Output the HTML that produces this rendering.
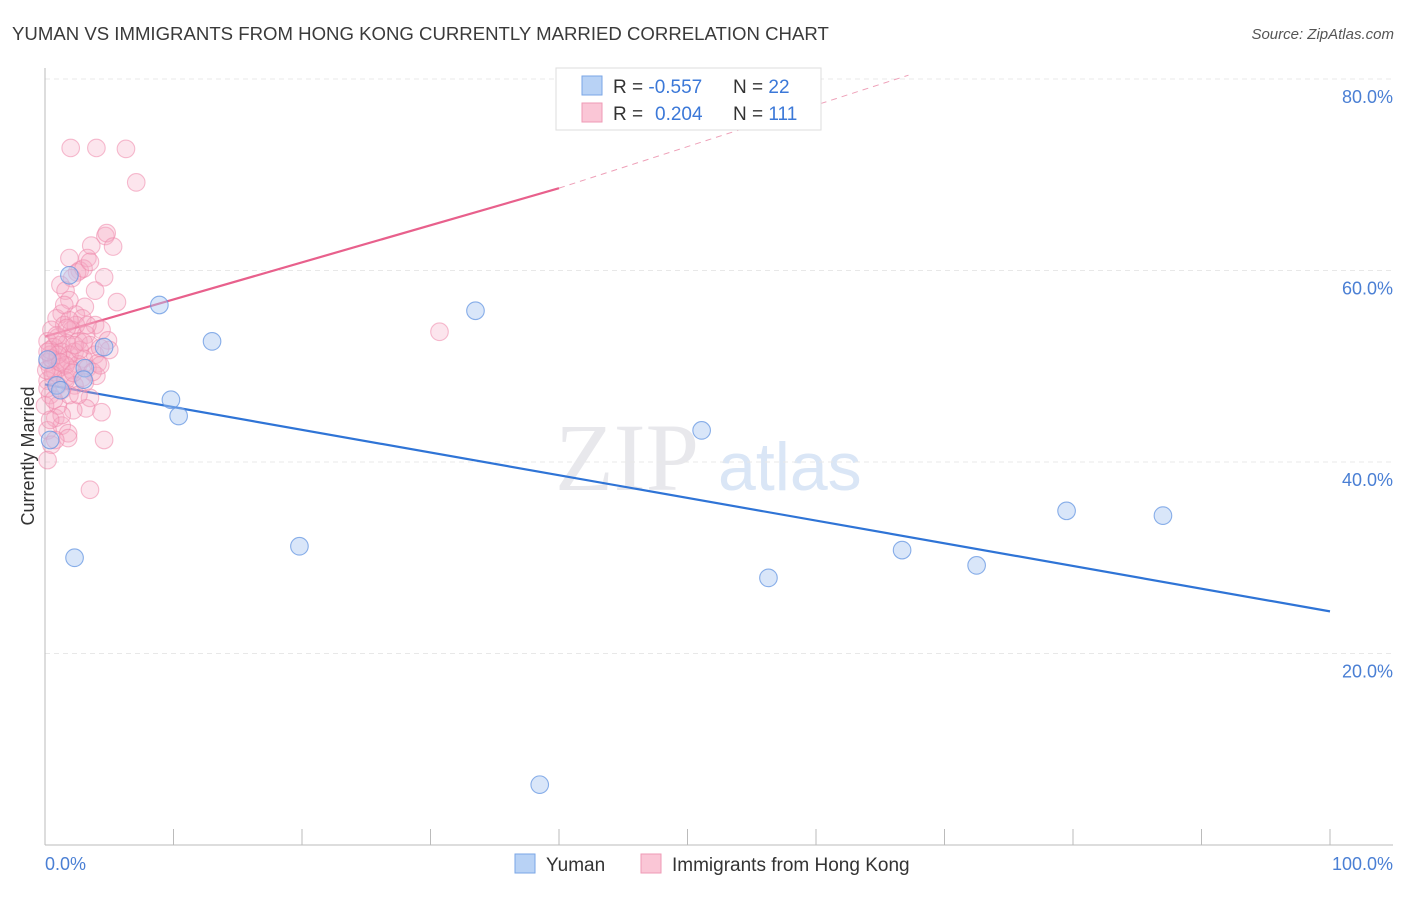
<!DOCTYPE html>
<html><head><meta charset="utf-8"><style>
body{margin:0;background:#fff;font-family:"Liberation Sans",sans-serif;}
</style></head><body>
<svg width="1406" height="892" xmlns="http://www.w3.org/2000/svg" font-family="Liberation Sans, sans-serif">
<text x="12" y="40" font-size="18.6" fill="#3a3a3a">YUMAN VS IMMIGRANTS FROM HONG KONG CURRENTLY MARRIED CORRELATION CHART</text>
<text x="1394" y="39" font-size="15" fill="#555" font-style="italic" text-anchor="end">Source: ZipAtlas.com</text>
<text x="555" y="490" font-size="96" fill="#e8e8ec" font-family="Liberation Serif, serif">ZIP</text>
<text x="718" y="490" font-size="68" fill="#dae6f6">atlas</text>
<g id="grid"></g><g id="axes"></g><g id="lines"></g><g id="pts"></g>
<text x="34" y="456" font-size="18" fill="#333" text-anchor="middle" transform="rotate(-90 34 456)">Currently Married</text>
<text x="45" y="870" font-size="18" fill="#4a7fd4">0.0%</text>
<text x="1393" y="870" font-size="18" fill="#4a7fd4" text-anchor="end">100.0%</text>
<g>
<rect x="556" y="68" width="265" height="62" fill="#fff" stroke="#ddd"/>
<rect x="582" y="76" width="20" height="19" fill="#b8d2f5" stroke="#7aa6e6"/>
<rect x="582" y="103" width="20" height="19" fill="#fac6d6" stroke="#ef9ab5"/>
<text x="613" y="93" font-size="19" fill="#333">R = <tspan fill="#3b78d8">-0.557</tspan></text>
<text x="733" y="93" font-size="19" fill="#333">N = <tspan fill="#3b78d8">22</tspan></text>
<text x="613" y="120" font-size="19" fill="#333">R = <tspan fill="#3b78d8" x="655">0.204</tspan></text>
<text x="733" y="120" font-size="19" fill="#333">N = <tspan fill="#3b78d8">111</tspan></text>
</g>
<g>
<rect x="515" y="854" width="20" height="19" fill="#b8d2f5" stroke="#7aa6e6"/>
<text x="546" y="871" font-size="19" fill="#333">Yuman</text>
<rect x="641" y="854" width="20" height="19" fill="#fac6d6" stroke="#ef9ab5"/>
<text x="672" y="871" font-size="19" fill="#333">Immigrants from Hong Kong</text>
</g>
</svg>
<script>
const yTicks=[20,40,60,80];
const xTicks=[0,10,20,30,40,50,60,70,80,90,100];
const blueX=[2.3,8.9,13.0,9.8,10.4,19.8,33.5,38.5,51.1,56.3,66.7,72.5,79.5,87.0,1.9,4.6,3.1,0.9,1.2,0.4,0.2,3.0];
const blueY=[30.0,56.4,52.6,46.5,44.8,31.2,55.8,6.3,43.3,27.9,30.8,29.2,34.9,34.4,59.5,52.0,49.8,48.0,47.5,42.3,50.7,48.6];
const pinkX=[2.0,4.0,6.3,7.1,4.7,4.8,5.3,3.6,3.3,1.9,2.7,2.5,4.6,2.1,1.2,1.6,5.6,1.9,3.1,1.3,2.4,0.9,2.9,3.9,1.5,0.5,4.4,2.1,3.2,1.0,4.9,0.2,2.6,1.7,3.5,0.7,5.0,1.3,2.3,0.4,3.9,3.0,0.9,1.8,0.2,4.1,2.6,1.2,0.4,3.3,2.1,0.8,4.0,2.9,1.6,0.2,1.0,2.3,3.5,1.3,0.4,3.2,2.2,4.4,0.8,1.3,0.2,1.8,4.6,1.8,0.5,3.5,30.7,0.2,0.8,1.9,1.2,0.4,2.7,1.6,0.6,3.7,0.2,1.0,1.9,3.1,4.3,2.4,1.5,3.9,3.0,3.5,2.3,1.0,0.1,0.5,1.6,2.6,1.3,0.0,0.4,0.9,1.9,3.3,1.2,4.3,0.2,3.0,1.7,0.7,2.2];
const pinkY=[72.8,72.8,72.7,69.2,63.6,63.9,62.5,62.6,61.3,61.3,60.0,59.8,59.3,59.2,58.5,57.9,56.7,56.9,56.2,55.5,55.4,55.0,55.0,54.3,54.3,53.8,53.8,53.8,53.3,53.0,52.7,52.6,52.6,52.4,52.2,52.0,51.7,51.5,51.5,51.2,51.2,50.8,50.6,50.6,50.4,50.3,50.2,49.9,49.8,49.8,49.6,49.4,49.0,48.8,48.8,48.5,48.0,48.0,46.7,47.5,47.0,45.6,45.4,45.2,44.6,43.8,43.3,43.0,42.3,42.5,41.8,37.1,53.6,40.2,42.3,51.2,52.2,51.7,51.7,50.1,49.1,49.4,47.7,45.9,47.0,48.3,51.9,54.3,56.4,57.9,60.2,60.9,52.2,51.2,49.6,50.8,48.5,47.0,44.9,45.9,44.4,53.2,54.8,54.3,50.4,50.1,51.5,52.5,54.0,46.5,49.3];
const blueTrend=[[0,48.1],[100,24.4]];
const pinkTrendSolid=[[0,53.1],[40,68.6]];
const pinkTrendDash=[[40,68.6],[67.2,80.4]];
const NS='http://www.w3.org/2000/svg';
const sx=v=>45+v*12.85, sy=v=>845-v*9.575;
function mk(tag,attrs,parent){const e=document.createElementNS(NS,tag);for(const k in attrs)e.setAttribute(k,attrs[k]);document.getElementById(parent).appendChild(e);return e;}
yTicks.forEach(t=>{
 const l=mk('line',{x1:45,x2:1393,y1:sy(t),y2:sy(t),stroke:'#e8e8e8','stroke-dasharray':'5,4'},'grid');
 
 
 const tx=mk('text',{x:1393,y:sy(t)+24,'font-size':18,fill:'#4a7fd4','text-anchor':'end'},'grid');
 tx.textContent=t.toFixed(1)+'%';
 
 
});
const ax=mk('line',{x1:45,x2:1393,y1:845,y2:845,stroke:'#bbb'},'axes');


const ay=mk('line',{x1:45,x2:45,y1:68,y2:845,stroke:'#bbb'},'axes');


xTicks.forEach(t=>{
 const l=mk('line',{x1:sx(t),x2:sx(t),y1:829,y2:845,stroke:'#bbb'},'axes');
 
 
});
function pts(xs,ys,fill,stroke,name){xs.forEach((x,i)=>{
 const c=mk('circle',{cx:sx(x),cy:sy(ys[i]),r:8.8,fill:fill,stroke:stroke,'stroke-width':1.1},'pts');
 
 
});}
pts(pinkX,pinkY,'rgba(246,168,196,0.3)','rgba(238,135,170,0.55)','hong-kong-point');
pts(blueX,blueY,'rgba(170,200,242,0.45)','rgba(100,150,225,0.75)','yuman-point');
const bl=mk('line',{x1:sx(blueTrend[0][0]),y1:sy(blueTrend[0][1]),x2:sx(blueTrend[1][0]),y2:sy(blueTrend[1][1]),stroke:'#2f74d6','stroke-width':2.2},'lines');


const pl=mk('line',{x1:sx(pinkTrendSolid[0][0]),y1:sy(pinkTrendSolid[0][1]),x2:sx(pinkTrendSolid[1][0]),y2:sy(pinkTrendSolid[1][1]),stroke:'#e8608c','stroke-width':2.2},'lines');


const pd=mk('line',{x1:sx(pinkTrendDash[0][0]),y1:sy(pinkTrendDash[0][1]),x2:sx(pinkTrendDash[1][0]),y2:sy(pinkTrendDash[1][1]),stroke:'#eea0b8','stroke-width':1,'stroke-dasharray':'6,5'},'lines');


</script>
</body></html>
